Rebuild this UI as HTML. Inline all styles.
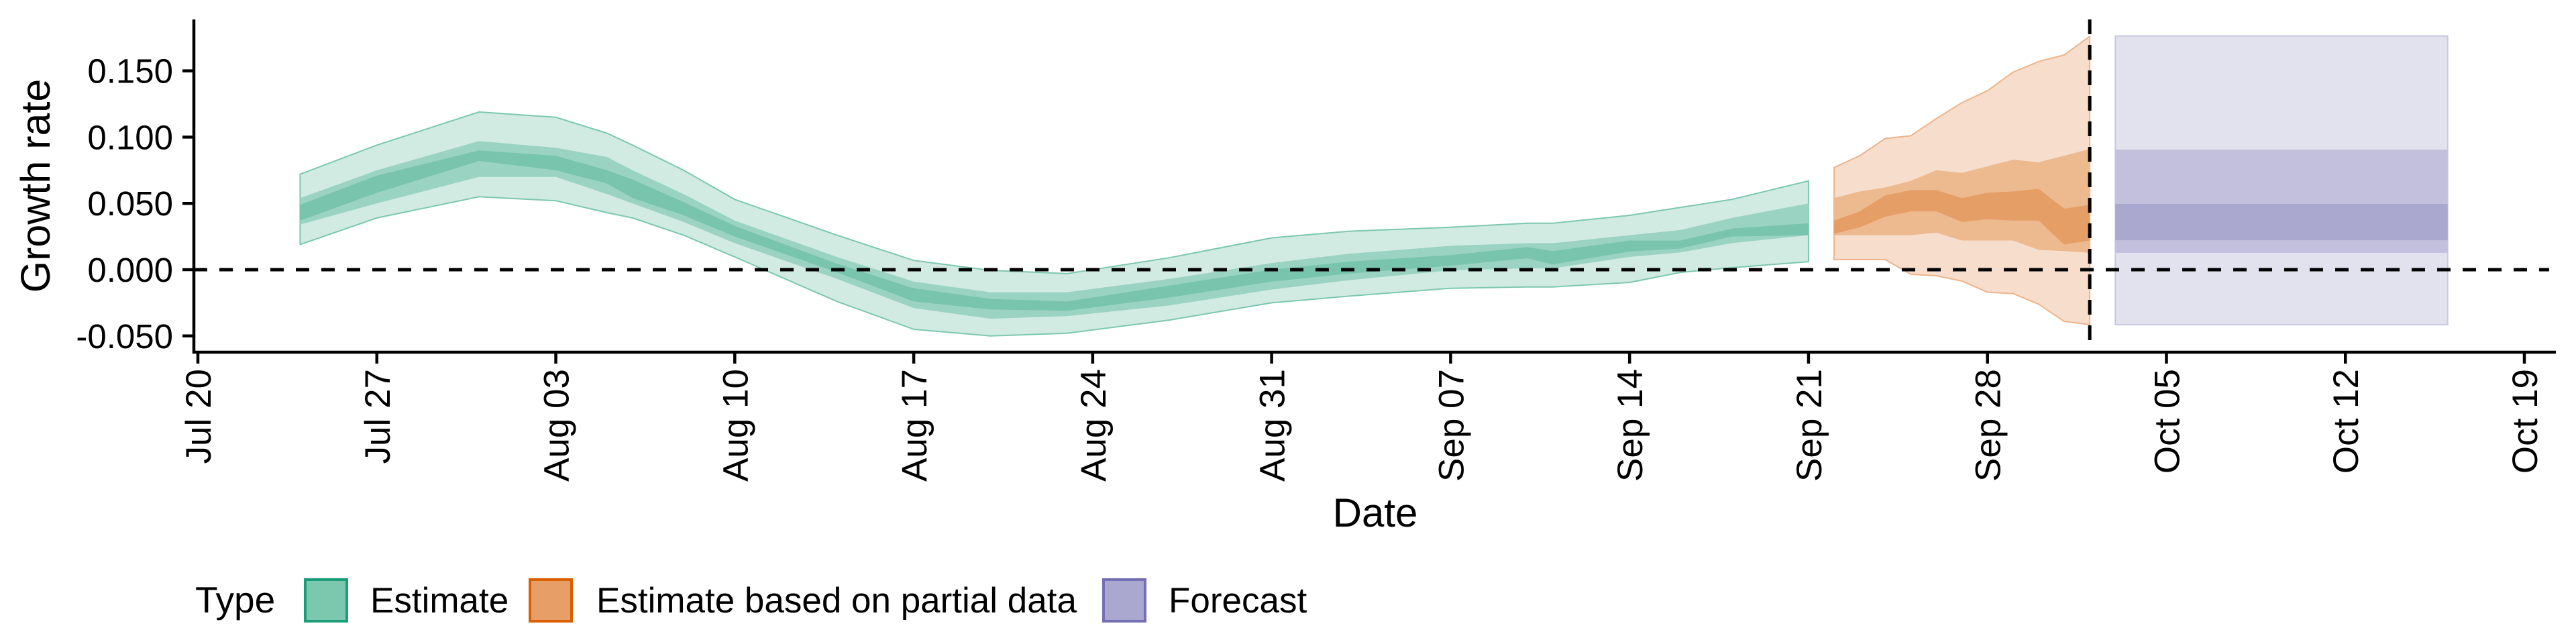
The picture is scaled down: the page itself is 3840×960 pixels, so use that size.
<!DOCTYPE html>
<html><head><meta charset="utf-8">
<style>
html,body{margin:0;padding:0;background:#fff;}
svg{display:block;font-family:"Liberation Sans",sans-serif;}
</style></head>
<body>
<svg id="chart" width="3840" height="960" viewBox="0 0 3840 960" xmlns="http://www.w3.org/2000/svg">
<g id="bands"></g>
<g id="axes"></g>
<text x="0" y="0" transform="translate(74,277) rotate(-90)" text-anchor="middle" font-size="61">Growth rate</text>
<text x="2050" y="785" text-anchor="middle" font-size="60">Date</text>
<g>
  <text x="291" y="913" font-size="55">Type</text>
  <rect x="455" y="864" width="62" height="62" fill="#7bc8ae" stroke="#1b9e77" stroke-width="4"/>
  <text x="552" y="913" font-size="53">Estimate</text>
  <rect x="790" y="864" width="62" height="62" fill="#e89f67" stroke="#d95f02" stroke-width="4"/>
  <text x="889" y="913" font-size="53">Estimate based on partial data</text>
  <rect x="1645" y="864" width="62" height="62" fill="#aaa8ce" stroke="#7570b3" stroke-width="4"/>
  <text x="1742" y="913" font-size="53">Forecast</text>
</g>
</svg>
<script>
// days since Jul 20
const estDays   = [4,7,11,14,16,17,19,21,25,28,31,34,38,42,45,49,52,53,56,58,60,63];
const estOutHi  = [.072,.094,.119,.115,.103,.094,.075,.053,.026,.007,-.0005,-.003,.009,.024,.029,.032,.035,.035,.041,.047,.053,.067];
const estOutLo  = [.019,.039,.055,.052,.043,.039,.026,.0096,-.024,-.045,-.050,-.048,-.038,-.025,-.020,-.014,-.013,-.013,-.0096,-.002,.0015,.006];
const estMidHi  = [.054,.075,.097,.092,.085,.075,.057,.037,.0096,-.009,-.017,-.017,-.007,.005,.012,.018,.020,.020,.026,.030,.039,.050];
const estMidLo  = [.034,.050,.070,.070,.057,.050,.036,.020,-.007,-.029,-.037,-.035,-.027,-.015,-.008,-.0005,.001,.001,.0096,.013,.020,.026];
const estInHi   = [.049,.071,.090,.086,.075,.068,.051,.033,.0045,-.014,-.022,-.024,-.012,.000,.006,.011,.017,.014,.022,.022,.031,.035];
const estInLo   = [.037,.058,.082,.075,.065,.054,.041,.025,-.002,-.024,-.030,-.031,-.021,-.009,-.003,.003,.0086,.004,.0137,.016,.025,.026];

const partDays  = [64,65,66,67,68,69,70,71,72,73,74];
const partOutHi = [.077,.086,.099,.101,.114,.126,.135,.149,.157,.162,.176];
const partOutLo = [.0076,.0076,.0076,-.0035,-.0046,-.0086,-.017,-.018,-.026,-.039,-.0415];
const partMidHi = [.054,.059,.062,.067,.075,.073,.078,.083,.081,.086,.091];
const partMidLo = [.026,.026,.026,.026,.028,.022,.022,.022,.015,.014,.0127];
const partInHi  = [.037,.044,.056,.060,.060,.054,.058,.059,.061,.046,.049];
const partInLo  = [.027,.032,.040,.044,.044,.036,.038,.037,.037,.019,.022];

const fcDays  = [75,88];
const fcOut   = [-.0415,.1763];
const fcMid   = [.0127,.0906];
const fcIn    = [.0222,.0496];

const yTicks = [-0.05,0,0.05,0.1,0.15];
const yTickLabels = ["-0.050","0.000","0.050","0.100","0.150"];
const xTicks = [0,7,14,21,28,35,42,49,56,63,70,77,84,91];
const xTickLabels = ["Jul 20","Jul 27","Aug 03","Aug 10","Aug 17","Aug 24","Aug 31","Sep 07","Sep 14","Sep 21","Sep 28","Oct 05","Oct 12","Oct 19"];
const forecastDay = 74;

const NS="http://www.w3.org/2000/svg";
const xS = d => 295 + d*38.11;
const yS = v => 402 - v*1976;
const bands=document.getElementById('bands'), axes=document.getElementById('axes');
function mk(tag,attrs,parent){const e=document.createElementNS(NS,tag);for(const k in attrs)e.setAttribute(k,attrs[k]);parent.appendChild(e);return e;}
function ribbon(days,hi,lo,fill,stroke,name){
  let p=days.map((d,i)=>(i?'L':'M')+xS(d).toFixed(1)+','+yS(hi[i]).toFixed(1)).join('');
  for(let i=days.length-1;i>=0;i--)p+='L'+xS(days[i]).toFixed(1)+','+yS(lo[i]).toFixed(1);
  const e=mk('path',{d:p+'Z',fill:fill,stroke:stroke||'none','stroke-width':stroke?2:0},bands);
  
  
}
ribbon(estDays,estOutHi,estOutLo,'#d2ebe2','#7bc8ae','estimate-90-band');
ribbon(estDays,estMidHi,estMidLo,'#9bd3c2',null,'estimate-50-band');
ribbon(estDays,estInHi,estInLo,'#78c4ad',null,'estimate-20-band');
ribbon(partDays,partOutHi,partOutLo,'#f7ddcb','#eeb48a','partial-90-band');
ribbon(partDays,partMidHi,partMidLo,'#edb98f',null,'partial-50-band');
ribbon(partDays,partInHi,partInLo,'#e69e67',null,'partial-20-band');
ribbon(fcDays,[fcOut[1],fcOut[1]],[fcOut[0],fcOut[0]],'#e2e2ee','#c8c6e0','forecast-90-band');
ribbon(fcDays,[fcMid[1],fcMid[1]],[fcMid[0],fcMid[0]],'#c2c0dc',null,'forecast-50-band');
ribbon(fcDays,[fcIn[1],fcIn[1]],[fcIn[0],fcIn[0]],'#aaa8ce',null,'forecast-20-band');

let e;
e=mk('line',{x1:289,x2:3800,y1:yS(0),y2:yS(0),stroke:'#000','stroke-width':5,'stroke-dasharray':'20 18'},axes);


e=mk('line',{x1:xS(forecastDay),x2:xS(forecastDay),y1:29,y2:525,stroke:'#000','stroke-width':5,'stroke-dasharray':'22 16'},axes);


e=mk('line',{x1:289,x2:289,y1:29,y2:527,stroke:'#000','stroke-width':4.5},axes);


e=mk('line',{x1:287,x2:3810,y1:525,y2:525,stroke:'#000','stroke-width':4.5},axes);


yTicks.forEach((v,i)=>{
  const t=mk('line',{x1:272,x2:289,y1:yS(v),y2:yS(v),stroke:'#000','stroke-width':4.5},axes);
  
  
  const l=mk('text',{x:258,y:yS(v)+18,'text-anchor':'end','font-size':51},axes);
  l.textContent=yTickLabels[i];
  
  
});
xTicks.forEach((d,i)=>{
  const t=mk('line',{x1:xS(d),x2:xS(d),y1:525,y2:542,stroke:'#000','stroke-width':4.5},axes);
  
  
  const l=mk('text',{x:0,y:0,'text-anchor':'end','font-size':53,transform:`translate(${xS(d)+19},550) rotate(-90)`},axes);
  l.textContent=xTickLabels[i];
  
  
});
</script>
</body></html>
